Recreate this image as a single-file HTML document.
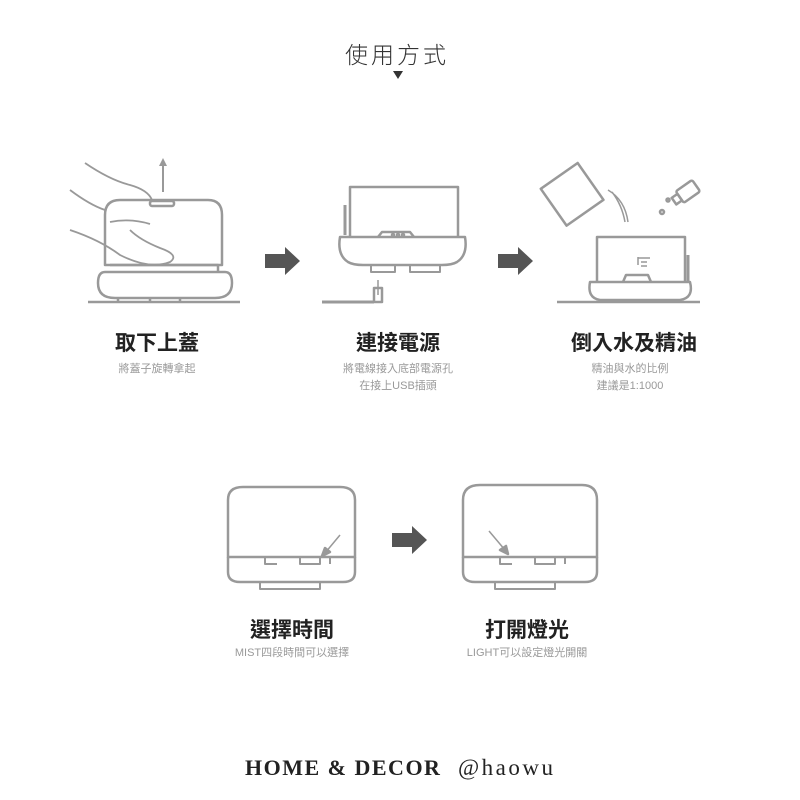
<!DOCTYPE html>
<html><head><meta charset="utf-8"><style>
body{margin:0;background:#fff;width:800px;height:800px;overflow:hidden;position:relative;font-family:"Liberation Sans","Noto Sans CJK TC",sans-serif}
.t{position:absolute;transform:translateX(-50%);white-space:nowrap;text-align:center}
.h{font-size:21px;font-weight:bold;color:#222}
.s{font-size:11px;color:#999;line-height:17px}
svg{position:absolute;left:0;top:0}
</style></head><body>
<div class="t" style="left:397px;top:36px;font-size:23px;color:#333;letter-spacing:3px;font-weight:300">使用方式</div>
<svg width="800" height="800" fill="none" stroke="#999" stroke-width="2.5" stroke-linejoin="round">
<polygon points="393,71 403,71 398,79" fill="#333" stroke="none"/>
<!-- panel1 -->
<line x1="88" y1="302" x2="240" y2="302"/>
<path d="M105,265 V215 Q105,200 120,200 H208 Q222,200 222,215 V265 Z"/>
<rect x="150" y="201" width="24" height="5" rx="2"/>
<path d="M110,265 H218 V272"/>
<path d="M105,272 H225 Q232,272 232,283 Q232,298 215,298 H115 Q98,298 98,283 Q98,272 105,272 Z"/>
<path d="M118,298 v4 M150,298 v4 M180,298 v4" />
<line x1="163" y1="192" x2="163" y2="162" stroke-width="2"/>
<polygon points="159,166 167,166 163,158" fill="#999" stroke="none"/>
<path d="M85,163 Q110,180 130,185 Q148,190 152,200" stroke-width="1.8"/>
<path d="M70,190 Q90,205 105,210" stroke-width="1.8"/>
<path d="M70,230 Q100,240 120,255 Q150,270 170,262 Q180,255 160,248 Q140,240 130,230" stroke-width="1.8"/>
<path d="M110,222 Q130,218 150,224" stroke-width="1.8"/>
<!-- arrows -->
<polygon points="265,254 285,254 285,247 300,261 285,275 285,268 265,268" fill="#555" stroke="none"/>
<polygon points="498,254 518,254 518,247 533,261 518,275 518,268 498,268" fill="#555" stroke="none"/>
<polygon points="392,533 412,533 412,526 427,540 412,554 412,547 392,547" fill="#555" stroke="none"/>
<!-- panel2 -->
<path d="M350,237 V187 H458 V237"/>
<path d="M345,205 V235" stroke-width="3"/>
<path d="M340,237 H465 Q468,255 457,262 Q452,265 442,265 H363 Q353,265 348,262 Q337,255 340,237 Z"/>
<path d="M378,237 L382,232 H410 L414,237" />
<circle cx="393" cy="235" r="1" /><circle cx="398" cy="235" r="1"/><circle cx="403" cy="235" r="1"/>
<path d="M371,265 V272 H395 V265 M410,265 V272 H440 V265" stroke-width="2"/>
<line x1="378" y1="295" x2="378" y2="280" stroke-width="1.5"/>
<rect x="374" y="288" width="8" height="14"/>
<line x1="322" y1="302" x2="374" y2="302" stroke-width="3"/>
<!-- panel3 -->
<line x1="557" y1="302" x2="700" y2="302"/>
<path d="M597,282 V237 H685 V282"/>
<path d="M688,255 V282" stroke-width="3"/>
<path d="M590,282 H690 Q694,298 680,300 H600 Q587,298 590,282 Z"/>
<path d="M623,282 L626,275 H648 L651,282"/>
<path d="M638,257 v8 M638,258 h12 M641,262 h6 M641,266 h6" stroke-width="1.5"/>
<path d="M612,300 v3 M655,300 v3"/>
<g transform="rotate(-35 572 195)"><rect x="550" y="172" width="45" height="45"/></g>
<path d="M608,190 Q625,200 628,222 M612,192 Q622,205 625,222" stroke-width="1.5"/>
<g transform="rotate(-35 688 195)"><rect x="680" y="185" width="20" height="14" rx="2"/><rect x="673" y="188" width="7" height="8"/></g>
<circle cx="668" cy="200" r="1.5"/><circle cx="662" cy="212" r="2"/>
<!-- bottom devices -->
<path d="M228,557 V500 Q228,487 243,487 H340 Q355,487 355,500 V557 Z"/>
<path d="M228,557 V572 Q228,582 240,582 H343 Q355,582 355,572 V557"/>
<path d="M265,557 v7 h12 M300,557 v7 h20 v-7 M330,557 v7" stroke-width="2"/>
<path d="M260,582 v7 h60 v-7" stroke-width="2"/>
<line x1="340" y1="535" x2="325" y2="553" stroke-width="1.5"/>
<polygon points="322,556 325,548 330,552" fill="#999"/>
<path d="M463,557 V500 Q463,485 480,485 H582 Q597,485 597,500 V557 Z"/>
<path d="M463,557 V572 Q463,582 475,582 H585 Q597,582 597,572 V557"/>
<path d="M500,557 v7 h12 M535,557 v7 h20 v-7 M565,557 v7" stroke-width="2"/>
<path d="M495,582 v7 h60 v-7" stroke-width="2"/>
<line x1="489" y1="531" x2="505" y2="550" stroke-width="1.5"/>
<polygon points="508,554 500,550 506,546" fill="#999"/>
</svg>
<div class="t h" style="left:157px;top:327px">取下上蓋</div>
<div class="t s" style="left:157px;top:361px">將蓋子旋轉拿起</div>
<div class="t h" style="left:398px;top:327px">連接電源</div>
<div class="t s" style="left:398px;top:361px">將電線接入底部電源孔<br>在接上USB插頭</div>
<div class="t h" style="left:634px;top:327px">倒入水及精油</div>
<div class="t s" style="left:630px;top:361px">精油與水的比例<br>建議是1:1000</div>
<div class="t h" style="left:292px;top:614px">選擇時間</div>
<div class="t s" style="left:292px;top:645px">MIST四段時間可以選擇</div>
<div class="t h" style="left:527px;top:614px">打開燈光</div>
<div class="t s" style="left:527px;top:645px">LIGHT可以設定燈光開關</div>
<div style="position:absolute;left:245px;top:755px;font-family:'Liberation Serif',serif;font-size:22px;font-weight:bold;color:#222;white-space:nowrap;letter-spacing:1.5px">HOME &amp; DECOR</div>
<div style="position:absolute;left:458px;top:755px;font-family:'Liberation Serif',serif;font-size:23px;color:#222;white-space:nowrap;letter-spacing:2.5px">@haowu</div>
</body></html>
